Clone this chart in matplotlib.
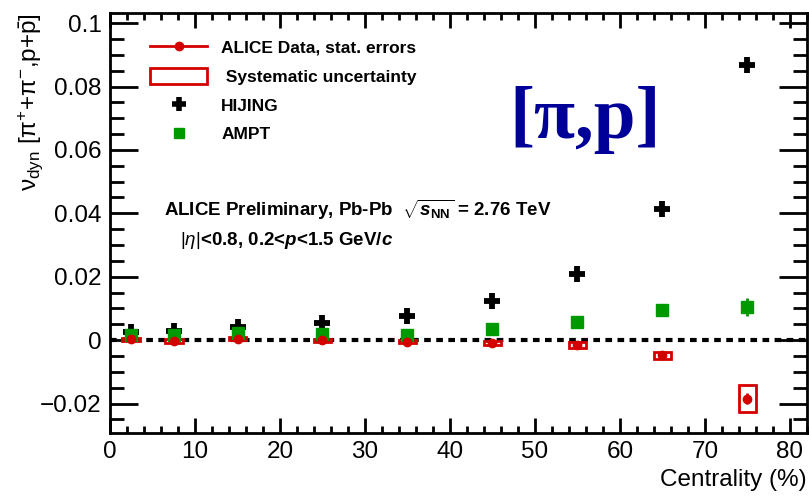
import numpy as np
import matplotlib
matplotlib.use('Agg')
import matplotlib.pyplot as plt
from matplotlib.patches import Rectangle
from matplotlib.lines import Line2D
from matplotlib.ticker import MultipleLocator

plt.rcParams['font.family'] = ['Liberation Sans', 'DejaVu Sans']
plt.rcParams['mathtext.fontset'] = 'custom'
plt.rcParams['mathtext.rm'] = 'Liberation Sans'
plt.rcParams['mathtext.it'] = 'Liberation Sans:italic'
plt.rcParams['mathtext.bf'] = 'Liberation Sans:bold'
plt.rcParams['mathtext.bfit'] = 'Liberation Sans:bold:italic'

# Data
centrality = [2.5, 7.5, 15, 25, 35, 45, 55, 65, 75]
alice = [0.0002, -0.0003, 0.0004, 0.0000, -0.0005, -0.0008, -0.0015, -0.0047, -0.0185]
alice_stat = [0.0002, 0.0002, 0.0002, 0.0002, 0.0002, 0.0003, 0.0004, 0.0006, 0.0017]
alice_sys = [0.0005, 0.0005, 0.0005, 0.0005, 0.0005, 0.0006, 0.0009, 0.0011, 0.0042]
hijing = [0.0025, 0.003, 0.004, 0.0054, 0.0076, 0.0124, 0.0208, 0.0413, 0.0868]
ampt = [0.0016, 0.0016, 0.0022, 0.0019, 0.0016, 0.0035, 0.0057, 0.0095, 0.0104]
ampt_err = [0.0003, 0.0003, 0.0003, 0.0003, 0.0003, 0.0004, 0.0005, 0.0007, 0.0029]

red = '#d40000'
green = '#009900'

fig = plt.figure(figsize=(8.09, 4.97), dpi=100)
ax = fig.add_axes([110 / 809, 1 - 433 / 497, (807 - 110) / 809, (433 - 13) / 497])

ax.axhline(0, color='black', linestyle=(0, (1.6, 1.3)), linewidth=3, zorder=1)

# systematic boxes
for x, y, s in zip(centrality, alice, alice_sys):
    ax.add_patch(Rectangle((x - 1.05, y - s), 2.1, 2 * s, fill=False,
                           edgecolor=red, linewidth=2, zorder=3))

ax.plot(centrality, hijing, '+', color='black', ms=12, mew=4.2, zorder=4)
ax.errorbar(centrality, ampt, yerr=ampt_err, fmt='s', color=green, ms=8,
            elinewidth=2, capsize=0, zorder=5)
ax.errorbar(centrality, alice, yerr=alice_stat, fmt='o', color=red, ms=6,
            elinewidth=2, capsize=0, zorder=6)

ax.set_xlim(0, 82)
ax.set_ylim(-0.0293, 0.1032)
ax.xaxis.set_major_locator(MultipleLocator(10))
ax.xaxis.set_minor_locator(MultipleLocator(2))
ax.yaxis.set_major_locator(MultipleLocator(0.02))
ax.yaxis.set_minor_locator(MultipleLocator(0.005))
ax.tick_params(which='both', direction='in', top=True, right=True, width=2,
               labelsize=17.5, pad=6)
ax.tick_params(axis='y', which='major', length=20)
ax.tick_params(axis='y', which='minor', length=10)
ax.tick_params(axis='x', which='major', length=11)
ax.tick_params(axis='x', which='minor', length=5)
ax.yaxis.set_major_formatter(plt.FuncFormatter(
    lambda v, p: '0' if abs(v) < 1e-9 else ('\u22120.02' if v < 0 else f'{v:g}')))
for sp in ax.spines.values():
    sp.set_linewidth(2)

ax.set_xlabel('Centrality (%)', fontsize=17.5, loc='right', labelpad=4)
ax.set_ylabel('\u03bd$_{\\rm dyn}$ [\u03c0$^{+}$+\u03c0$^{-}$,p+$\\bar{\\rm p}$]',
              fontsize=17.5, loc='top', labelpad=-4)

# legend
handles = [
    Line2D([], [], color=red, marker='o', ms=6, lw=2),
    Rectangle((0, 0), 1, 1, fill=False, edgecolor=red, lw=2),
    Line2D([], [], color='black', marker='+', ms=10, mew=4, lw=0),
    Line2D([], [], color=green, marker='s', ms=7, lw=0),
]
labels = ['ALICE Data, stat. errors', ' Systematic uncertainty', 'HIJING', 'AMPT']
leg = ax.legend(handles, labels, loc='upper left', bbox_to_anchor=(0.035, 0.975),
                frameon=False, prop={'weight': 'bold', 'size': 12.5},
                handlelength=3.3, handleheight=1.0, labelspacing=0.7,
                handletextpad=0.8)

ax.text(0.077, 0.53, r'ALICE Preliminary, Pb-Pb  $\sqrt{\mathbfit{s}_{\mathbf{NN}}}$ = 2.76 TeV',
        transform=ax.transAxes, fontsize=13.5, fontweight='bold', va='center')
ax.text(0.1, 0.458, r'$|\eta|$<0.8, 0.2<$\mathbfit{p}$<1.5 GeV/$\mathbfit{c}$',
        transform=ax.transAxes, fontsize=13.5, fontweight='bold', va='center')

ax.text(0.682, 0.745, '[\u03c0,p]', transform=ax.transAxes, fontsize=54,
        fontweight='bold', family='Liberation Serif', color='#000099',
        ha='center', va='center')

fig.savefig('out.png', dpi=100)
